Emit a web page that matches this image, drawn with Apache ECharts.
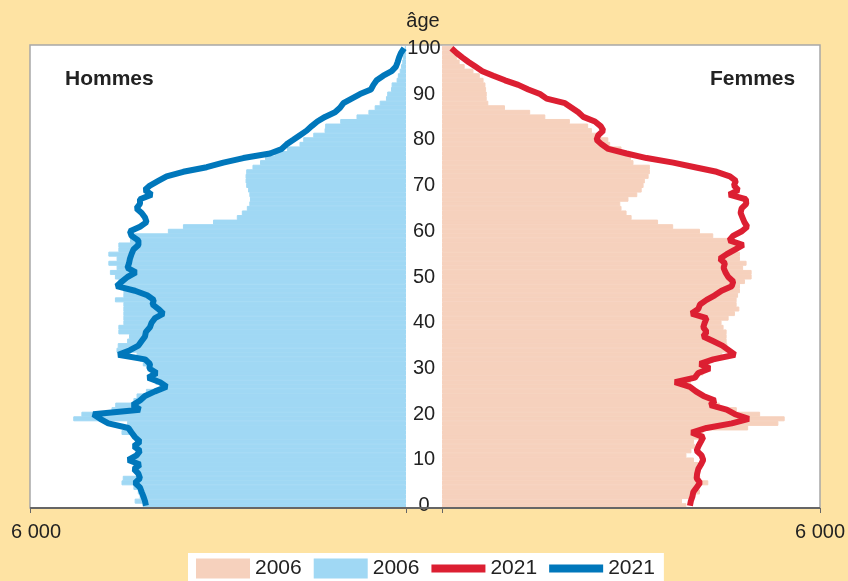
<!DOCTYPE html>
<html lang="fr">
<head>
<meta charset="utf-8">
<title>Pyramide des âges 2006 / 2021</title>
<script src="https://cdn.jsdelivr.net/npm/echarts@6/dist/echarts.min.js"></script>
<style>
  html, body { margin: 0; padding: 0; background: #fee3a3; }
  #chart { width: 848px; height: 581px; }
</style>
</head>
<body>
<div id="chart"></div>
<script>
// âges 0 à 100 (un élément par âge)
const ages = [
  0, 1, 2, 3, 4, 5, 6, 7, 8, 9, 10, 11, 12, 13, 14, 15, 16, 17, 18, 19, 20,
  21, 22, 23, 24, 25, 26, 27, 28, 29, 30, 31, 32, 33, 34, 35, 36, 37, 38, 39, 40,
  41, 42, 43, 44, 45, 46, 47, 48, 49, 50, 51, 52, 53, 54, 55, 56, 57, 58, 59, 60,
  61, 62, 63, 64, 65, 66, 67, 68, 69, 70, 71, 72, 73, 74, 75, 76, 77, 78, 79, 80,
  81, 82, 83, 84, 85, 86, 87, 88, 89, 90, 91, 92, 93, 94, 95, 96, 97, 98, 99, 100
];

// hommes 2006 (barres bleu clair)
const hommes2006 = [
  4200, 4330, 4250, 4280, 4350, 4540, 4520, 4300, 4280, 4350,
  4330, 4280, 4300, 4270, 4320, 4300, 4540, 4400, 4450, 5310,
  5180, 4700, 4640, 4350, 4300, 4150, 3900, 4000, 4100, 4060,
  4050, 4200, 4250, 4300, 4620, 4600, 4450, 4420, 4590, 4590,
  4510, 4510, 4510, 4510, 4510, 4645, 4510, 4510, 4565, 4590,
  4645, 4725, 4618, 4750, 4618, 4750, 4590, 4590, 4405, 4380,
  3800, 3560, 3080, 2700, 2620, 2540, 2500, 2490, 2500, 2520,
  2550, 2560, 2560, 2550, 2450, 2330, 2250, 2100, 1900, 1700,
  1640, 1480, 1300, 1290, 1050, 790, 600, 500, 420, 320,
  300, 240, 230, 150, 130, 100, 80, 60, 50, 40,
  20
];

// femmes 2006 (barres roses)
const femmes2006 = [
  3880, 3810, 4000, 4095, 4050, 4227, 4100, 4050, 4060, 4080,
  4000, 3880, 3960, 4015, 4000, 4100, 4150, 4860, 5340, 5440,
  5050, 4680, 4410, 4300, 4175, 4070, 3950, 3950, 4050, 4150,
  4150, 4250, 4350, 4450, 4530, 4530, 4518, 4518, 4518, 4470,
  4438, 4550, 4650, 4720, 4677, 4677, 4700, 4730, 4730, 4809,
  4915, 4915, 4780, 4835, 4730, 4730, 4700, 4800, 4620, 4306,
  4095, 3670, 3430, 3010, 2930, 2850, 2830, 2960, 3100, 3170,
  3200, 3220, 3280, 3300, 3300, 3040, 3000, 2900, 2850, 2670,
  2640, 2460, 2380, 2320, 2030, 1640, 1400, 1000, 735, 710,
  710, 700, 690, 660, 600, 500, 360, 280, 240, 210,
  180
];

// hommes 2021 (ligne bleue)
const hommes2021 = [
  4150, 4165, 4190, 4218, 4245, 4325, 4245, 4270, 4340, 4245,
  4430, 4300, 4245, 4340, 4245, 4325, 4380, 4430, 4750, 4880,
  4990, 4245, 4360, 4245, 4165, 4005, 3820, 3925, 4115, 3980,
  4095, 4085, 4165, 4590, 4405, 4270, 4218, 4165, 4150, 4086,
  4060, 4005, 3873, 3950, 4045, 4025, 4130, 4325, 4618, 4535,
  4445, 4310, 4445, 4420, 4405, 4380, 4350, 4270, 4270, 4380,
  4405, 4245, 4140, 4165, 4218, 4300, 4245, 4245, 4059, 4166,
  4086, 3953, 3820, 3554, 3181, 2915, 2596, 2170, 1984, 1905,
  1798, 1692, 1585, 1505, 1415, 1293, 1133, 1053, 1000, 867,
  734, 560, 520, 468, 362, 229, 160, 133, 110, 80,
  30
];

// femmes 2021 (ligne rouge)
const femmes2021 = [
  3936, 3950, 3975, 3989, 4042, 4095, 4042, 4050, 4068, 4110,
  4147, 4121, 4042, 4070, 4110, 4147, 3962, 4200, 4600, 4870,
  4650, 4518, 4260, 4333, 4150, 4030, 3936, 3698, 4015, 4068,
  4250, 4095, 4306, 4650, 4550, 4450, 4300, 4147, 4200, 4147,
  4170, 4200, 3962, 4068, 4095, 4200, 4330, 4438, 4600, 4623,
  4544, 4500, 4470, 4491, 4412, 4520, 4650, 4782, 4560, 4620,
  4760, 4845, 4800, 4770, 4740, 4756, 4830, 4824, 4560, 4703,
  4634, 4665, 4570, 4359, 4015, 3671, 3248, 2931, 2640, 2534,
  2454, 2480, 2560, 2518, 2428, 2243, 2164, 2058, 1952, 1661,
  1555, 1370, 1211, 1000, 815, 640, 530, 420, 320, 230,
  150
];

const xMax = 6000;

const font = 'Liberation Sans, Arial, sans-serif';
const textColor = '#222';
const blueLight = '#a0d8f4';
const pink = '#f6d1bd';
const lineIcon = 'path://M0,0M54,20M0,6H54V14H0Z';

const chart = echarts.init(document.getElementById('chart'));

const option = {
  animation: false,
  backgroundColor: '#fee3a3',
  textStyle: { fontFamily: font },
  grid: [
    { left: 30, top: 46, width: 376, height: 462 },
    { left: 442, top: 46, width: 378, height: 462 }
  ],
  xAxis: [
    {
      type: 'value', gridIndex: 0, inverse: true, min: 0, max: xMax, interval: xMax,
      splitLine: { show: false },
      axisLine: { show: false },
      axisTick: { show: true, length: 5, lineStyle: { color: '#666' } },
      axisLabel: {
        formatter: v => (v === xMax ? '6 000' : ''),
        fontSize: 20, color: textColor, margin: 14, padding: [0, 0, 0, 12]
      }
    },
    {
      type: 'value', gridIndex: 1, min: 0, max: xMax, interval: xMax,
      splitLine: { show: false },
      axisLine: { show: false },
      axisTick: { show: true, length: 5, lineStyle: { color: '#666' } },
      axisLabel: {
        formatter: v => (v === xMax ? '6 000' : ''),
        fontSize: 20, color: textColor, margin: 14
      }
    }
  ],
  yAxis: [
    {
      type: 'category', gridIndex: 0, data: ages, position: 'right',
      axisLine: { show: false },
      axisLabel: { show: false },
      axisTick: { alignWithLabel: true, interval: 9, length: 4, lineStyle: { color: '#555' } }
    },
    {
      type: 'category', gridIndex: 1, data: ages, position: 'left',
      axisLine: { show: false },
      axisLabel: { interval: 9, align: 'center', margin: 18, fontSize: 20, color: textColor },
      axisTick: { alignWithLabel: true, interval: 9, length: 4, lineStyle: { color: '#555' } }
    }
  ],
  legend: {
    left: 188, top: 553,
    padding: [5, 9, 6, 8],
    backgroundColor: '#fff',
    itemWidth: 54, itemHeight: 20, itemGap: 12,
    itemStyle: { borderWidth: 0 },
    textStyle: { fontSize: 21, color: textColor, fontFamily: font },
    formatter: name => name.split(' ')[1],
    selectedMode: false,
    data: [
      { name: 'Femmes 2006', icon: 'rect' },
      { name: 'Hommes 2006', icon: 'rect' },
      { name: 'Femmes 2021', icon: lineIcon },
      { name: 'Hommes 2021', icon: lineIcon }
    ]
  },
  graphic: [
    {
      type: 'rect', z: -10, silent: true,
      shape: { x: 30, y: 45, width: 790, height: 463 },
      style: { fill: '#fff', stroke: '#a8a8a8', lineWidth: 1.5 }
    },
    {
      type: 'line', z: 10, silent: true,
      shape: { x1: 30, y1: 508, x2: 820, y2: 508 },
      style: { stroke: '#666', lineWidth: 2 }
    },
    {
      type: 'text', x: 65, y: 79, z: 10,
      style: { text: 'Hommes', font: 'bold 21px ' + font, fill: textColor, align: 'left', verticalAlign: 'middle' }
    },
    {
      type: 'text', x: 710, y: 79, z: 10,
      style: { text: 'Femmes', font: 'bold 21px ' + font, fill: textColor, align: 'left', verticalAlign: 'middle' }
    },
    {
      type: 'text', x: 423, y: 21, z: 10,
      style: { text: 'âge', font: '20px ' + font, fill: textColor, align: 'center', verticalAlign: 'middle' }
    }
  ],
  series: [
    {
      name: 'Hommes 2006', type: 'bar', xAxisIndex: 0, yAxisIndex: 0,
      data: hommes2006, barWidth: 5, z: 2,
      itemStyle: { color: blueLight, borderColor: blueLight, borderWidth: 1 }
    },
    {
      name: 'Femmes 2006', type: 'bar', xAxisIndex: 1, yAxisIndex: 1,
      data: femmes2006, barWidth: 5, z: 2,
      itemStyle: { color: pink, borderColor: pink, borderWidth: 1 }
    },
    {
      name: 'Hommes 2021', type: 'line', xAxisIndex: 0, yAxisIndex: 0,
      data: hommes2021, symbol: 'none', z: 3,
      itemStyle: { color: '#0077bb' },
      lineStyle: { width: 6, color: '#0077bb' }
    },
    {
      name: 'Femmes 2021', type: 'line', xAxisIndex: 1, yAxisIndex: 1,
      data: femmes2021, symbol: 'none', z: 3,
      itemStyle: { color: '#dc1f32' },
      lineStyle: { width: 6, color: '#dc1f32' }
    }
  ]
};

chart.setOption(option);
</script>
</body>
</html>
